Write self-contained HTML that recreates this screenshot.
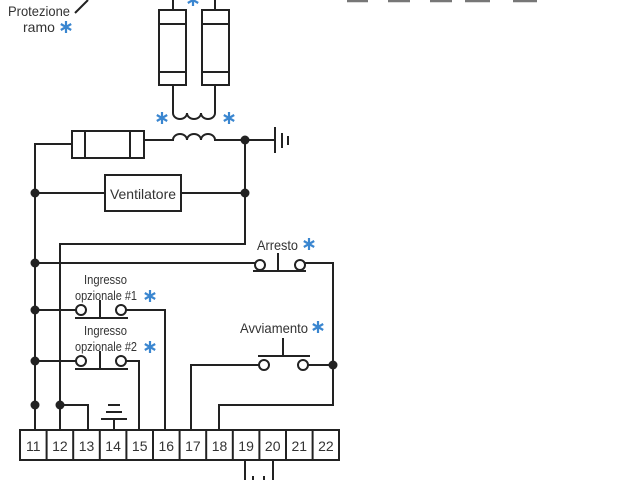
<!DOCTYPE html>
<html><head><meta charset="utf-8"><style>
html,body{margin:0;padding:0;background:#fff;width:640px;height:480px;overflow:hidden}
svg{display:block}
text{font-family:"Liberation Sans",sans-serif;fill:#333}
</style></head><body>
<svg width="640" height="480" viewBox="0 0 640 480" xmlns="http://www.w3.org/2000/svg">
<defs>
<g id="ast" stroke="#3a86d0" stroke-width="2.2">
<line x1="0" y1="-6" x2="0" y2="6"/><line x1="-5.2" y1="-3" x2="5.2" y2="3"/><line x1="-5.2" y1="3" x2="5.2" y2="-3"/>
</g>
</defs>
<g stroke="#222" stroke-width="2" fill="none">
<g stroke="#777" stroke-width="2.5">
<line x1="347" y1="1" x2="368" y2="1"/><line x1="388" y1="1" x2="410" y2="1"/><line x1="430" y1="1" x2="452" y2="1"/><line x1="465" y1="1" x2="490" y2="1"/><line x1="513" y1="1" x2="537" y2="1"/>
</g>
<line x1="75" y1="13" x2="88" y2="0"/>
<line x1="173" y1="0" x2="173" y2="10"/><line x1="215" y1="0" x2="215" y2="10"/>
<rect x="159" y="10" width="27" height="75"/><line x1="159" y1="24" x2="186" y2="24"/><line x1="159" y1="72" x2="186" y2="72"/>
<rect x="202" y="10" width="27" height="75"/><line x1="202" y1="24" x2="229" y2="24"/><line x1="202" y1="72" x2="229" y2="72"/>
<path d="M173 85 V113 a7 6 0 0 0 14 0 a7 6 0 0 0 14 0 a7 6 0 0 0 14 0 V85"/>
<path d="M145 140 H173 a7 6 0 0 1 14 0 a7 6 0 0 1 14 0 a7 6 0 0 1 14 0 H275"/>
<line x1="275" y1="127" x2="275" y2="153"/><line x1="282" y1="133" x2="282" y2="148"/><line x1="288" y1="136" x2="288" y2="145"/>
<rect x="72" y="131" width="72" height="27"/><line x1="85" y1="131" x2="85" y2="158"/><line x1="130" y1="131" x2="130" y2="158"/>
<path d="M72 144 H35 V415"/>
<rect x="105" y="175" width="76" height="36"/>
<line x1="35" y1="193" x2="105" y2="193"/><line x1="181" y1="193" x2="245" y2="193"/>
<path d="M245 140 V244 H60 V430"/>
<path d="M35 415 V430"/>
<line x1="35" y1="263" x2="255" y2="263"/>
<circle cx="260" cy="265" r="5"/><circle cx="300" cy="265" r="5"/>
<line x1="253" y1="271" x2="306" y2="271"/><line x1="278" y1="253" x2="278" y2="271"/>
<path d="M305 263 H333 V405 H219 V430"/>
<line x1="35" y1="310" x2="76" y2="310"/>
<circle cx="81" cy="310" r="5"/><circle cx="121" cy="310" r="5"/>
<line x1="75" y1="318" x2="128" y2="318"/><line x1="100" y1="300" x2="100" y2="318"/>
<path d="M126 310 H165 V430"/>
<line x1="35" y1="361" x2="76" y2="361"/>
<circle cx="81" cy="361" r="5"/><circle cx="121" cy="361" r="5"/>
<line x1="75" y1="369" x2="128" y2="369"/><line x1="100" y1="351" x2="100" y2="369"/>
<path d="M126 361 H139 V430"/>
<line x1="283" y1="338" x2="283" y2="356"/><line x1="258" y1="356" x2="310" y2="356"/>
<circle cx="264" cy="365" r="5"/><circle cx="303" cy="365" r="5"/>
<path d="M259 365 H191 V430"/><line x1="308" y1="365" x2="333" y2="365"/>
<path d="M60 405 H88 V430"/>
<line x1="108" y1="405" x2="120" y2="405"/><line x1="106" y1="412" x2="122" y2="412"/><line x1="101" y1="419" x2="127" y2="419"/><line x1="114" y1="419" x2="114" y2="430"/>
<rect x="20" y="430" width="319" height="30"/>
<line x1="46.6" y1="430" x2="46.6" y2="460"/><line x1="73.2" y1="430" x2="73.2" y2="460"/><line x1="99.8" y1="430" x2="99.8" y2="460"/><line x1="126.4" y1="430" x2="126.4" y2="460"/><line x1="153" y1="430" x2="153" y2="460"/><line x1="179.6" y1="430" x2="179.6" y2="460"/><line x1="206.2" y1="430" x2="206.2" y2="460"/><line x1="232.8" y1="430" x2="232.8" y2="460"/><line x1="259.4" y1="430" x2="259.4" y2="460"/><line x1="286" y1="430" x2="286" y2="460"/><line x1="312.6" y1="430" x2="312.6" y2="460"/>
<line x1="245" y1="460" x2="245" y2="480"/><line x1="273" y1="460" x2="273" y2="480"/>
<line x1="253" y1="476" x2="253" y2="480"/><line x1="264" y1="476" x2="264" y2="480"/>
</g>
<g fill="#222">
<circle cx="245" cy="140" r="4.5"/><circle cx="35" cy="193" r="4.5"/><circle cx="245" cy="193" r="4.5"/>
<circle cx="35" cy="263" r="4.5"/><circle cx="35" cy="310" r="4.5"/><circle cx="35" cy="361" r="4.5"/>
<circle cx="35" cy="405" r="4.5"/><circle cx="60" cy="405" r="4.5"/><circle cx="333" cy="365" r="4.5"/>
</g>
<g font-size="14">
<text x="8" y="16" textLength="62" lengthAdjust="spacingAndGlyphs">Protezione</text><text x="23" y="32">ramo</text>
<text x="143" y="199" text-anchor="middle" textLength="66" lengthAdjust="spacingAndGlyphs">Ventilatore</text>
<text x="257" y="250" textLength="41" lengthAdjust="spacingAndGlyphs">Arresto</text>
<text x="240" y="333" textLength="68" lengthAdjust="spacingAndGlyphs">Avviamento</text>
</g>
<g font-size="13">
<text x="84" y="284" textLength="43" lengthAdjust="spacingAndGlyphs">Ingresso</text><text x="75" y="300" textLength="62" lengthAdjust="spacingAndGlyphs">opzionale #1</text>
<text x="84" y="335" textLength="43" lengthAdjust="spacingAndGlyphs">Ingresso</text><text x="75" y="351" textLength="62" lengthAdjust="spacingAndGlyphs">opzionale #2</text>
</g>
<g font-size="14" text-anchor="middle">
<text x="33.3" y="451">11</text><text x="59.9" y="451">12</text><text x="86.5" y="451">13</text><text x="113.1" y="451">14</text><text x="139.7" y="451">15</text><text x="166.3" y="451">16</text><text x="192.9" y="451">17</text><text x="219.5" y="451">18</text><text x="246.1" y="451">19</text><text x="272.7" y="451">20</text><text x="299.3" y="451">21</text><text x="325.9" y="451">22</text>
</g>
<use href="#ast" x="66" y="27"/>
<use href="#ast" x="193" y="0"/>
<use href="#ast" x="162" y="118"/>
<use href="#ast" x="229" y="118"/>
<use href="#ast" x="309" y="244"/>
<use href="#ast" x="150" y="296"/>
<use href="#ast" x="150" y="347"/>
<use href="#ast" x="318" y="327"/>
</svg>
</body></html>
